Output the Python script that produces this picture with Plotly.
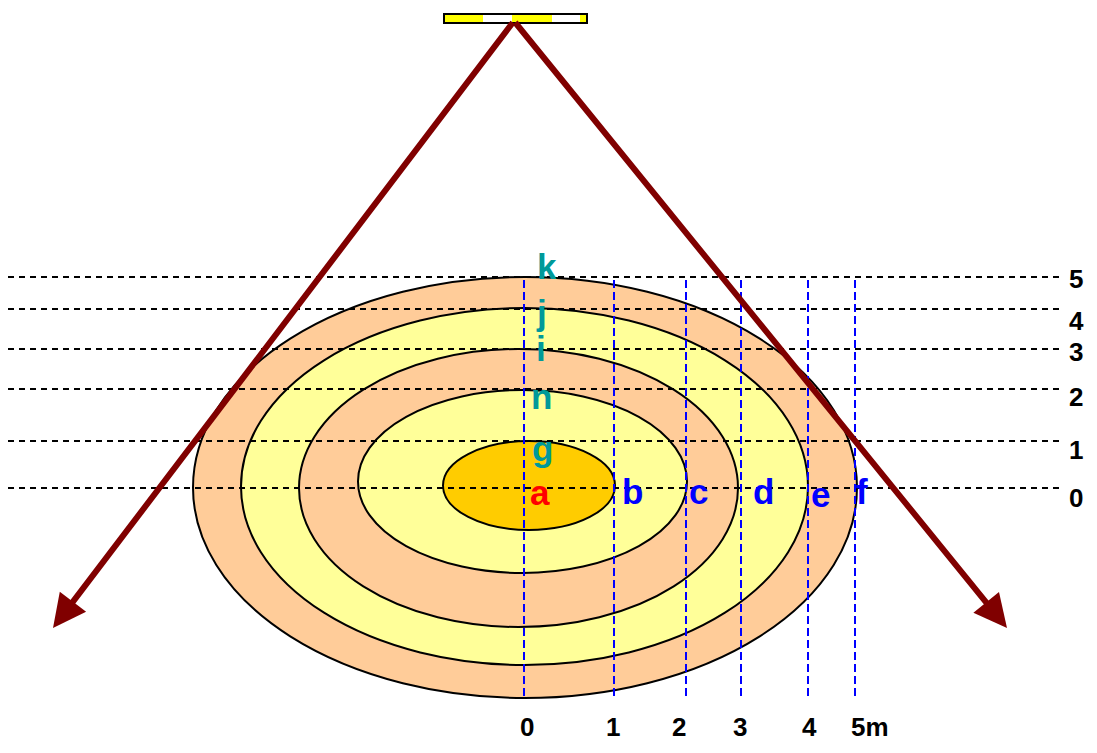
import plotly.graph_objects as go

W, H = 1097, 753
PAGE_MARGIN = 8  # default body margin of the html page

# Concentric zones (outer -> inner): centers and semi-axes in canvas units
zone_cx = [525, 524.5, 518.5, 522.5, 529]
zone_cy = [487.5, 486.5, 488, 481.5, 485.5]
zone_rx = [332, 283.5, 219.5, 164.5, 86]
zone_ry = [210.5, 178.5, 139, 91.5, 44.5]
zone_colors = ["#FFCC99", "#FFFF99", "#FFCC99", "#FFFF99", "#FFCC00"]

# Horizontal reference lines (vertical distance) and labels
h_line_y = [488, 441, 389, 349, 309, 277]
h_labels = ["0", "1", "2", "3", "4", "5"]
h_label_y = [498, 450, 397, 352, 321, 279]
h_line_x = (8, 1060)
h_label_x = 1076

# Vertical reference lines (horizontal distance) and labels
v_line_x = [524, 614, 686, 741, 808, 855]
v_labels = ["0", "1", "2", "3", "4", "5m"]
v_label_x = [527, 613, 679, 740, 809, 870]
v_line_y = (280, 700)
v_label_y = 727

# Measurement points
pt_letters = ["a", "b", "c", "d", "e", "f", "g", "n", "i", "j", "k"]
pt_x = [540, 632, 698, 763, 820, 862, 542, 541, 541, 541, 547]
pt_y = [492, 491, 491, 491, 494, 491, 448, 396, 348, 312, 266]
pt_colors = ["#FF0000"] + ["#0000FF"] * 5 + ["#009999"] * 5

# Light beam arrows (apex -> tips)
apex = (514, 21)
arrow_tips = [(53, 628), (1007, 628)]

# Lamp segments
lamp_y = (14, 23)
lamp_edges = [444, 483, 512, 552, 580, 587]
lamp_cols = ["#FFFF00", "#FFFFFF", "#FFFF00", "#FFFFFF", "#FFFF00"]

fig = go.Figure()
fig.add_trace(go.Scatter(x=[0, W], y=[0, H], mode="markers",
                         marker=dict(opacity=0), hoverinfo="skip", showlegend=False))

shapes = []
for cx, cy, rx, ry, col in zip(zone_cx, zone_cy, zone_rx, zone_ry, zone_colors):
    shapes.append(dict(type="circle", xref="x", yref="y",
                       x0=cx - rx, x1=cx + rx, y0=cy - ry, y1=cy + ry,
                       fillcolor=col, line=dict(color="black", width=2)))
for y in h_line_y:
    shapes.append(dict(type="line", xref="x", yref="y", x0=h_line_x[0], x1=h_line_x[1],
                       y0=y, y1=y, line=dict(color="black", width=1.8, dash="6px,5px")))
for x in v_line_x:
    shapes.append(dict(type="line", xref="x", yref="y", x0=x, x1=x,
                       y0=v_line_y[0], y1=v_line_y[1],
                       line=dict(color="#0000FF", width=2, dash="8px,4px")))

annotations = []
for (tx, ty) in arrow_tips:
    annotations.append(dict(x=tx, y=ty, ax=apex[0], ay=apex[1], xref="x", yref="y",
                            axref="x", ayref="y", text="", showarrow=True,
                            arrowhead=2, arrowsize=1.1, arrowwidth=6,
                            arrowcolor="#800000", standoff=0, startstandoff=0))

for i, col in enumerate(lamp_cols):
    shapes.append(dict(type="rect", xref="x", yref="y", x0=lamp_edges[i], x1=lamp_edges[i + 1],
                       y0=lamp_y[0], y1=lamp_y[1], fillcolor=col, line=dict(width=0)))
shapes.append(dict(type="rect", xref="x", yref="y", x0=lamp_edges[0], x1=lamp_edges[-1],
                   y0=lamp_y[0], y1=lamp_y[1], line=dict(color="black", width=2)))

font_family = "Liberation Sans, Arial, sans-serif"
for t, x, y, c in zip(pt_letters, pt_x, pt_y, pt_colors):
    annotations.append(dict(x=x, y=y, xref="x", yref="y", text=f"<b>{t}</b>", showarrow=False,
                            font=dict(family=font_family, size=35, color=c)))
for t, y in zip(h_labels, h_label_y):
    annotations.append(dict(x=h_label_x, y=y, xref="x", yref="y", text=f"<b>{t}</b>",
                            showarrow=False, font=dict(family=font_family, size=26, color="black")))
for t, x in zip(v_labels, v_label_x):
    annotations.append(dict(x=x, y=v_label_y, xref="x", yref="y", text=f"<b>{t}</b>",
                            showarrow=False, font=dict(family=font_family, size=26, color="black")))

fig.update_layout(
    width=W - 2 * PAGE_MARGIN, height=H - 2 * PAGE_MARGIN, margin=dict(l=0, r=0, t=0, b=0),
    paper_bgcolor="white", plot_bgcolor="white",
    xaxis=dict(range=[PAGE_MARGIN, W - PAGE_MARGIN], visible=False, fixedrange=True),
    yaxis=dict(range=[H - PAGE_MARGIN, PAGE_MARGIN], visible=False, fixedrange=True),
    shapes=shapes, annotations=annotations, showlegend=False,
)
fig.write_html("out.html", config={"displayModeBar": False})
